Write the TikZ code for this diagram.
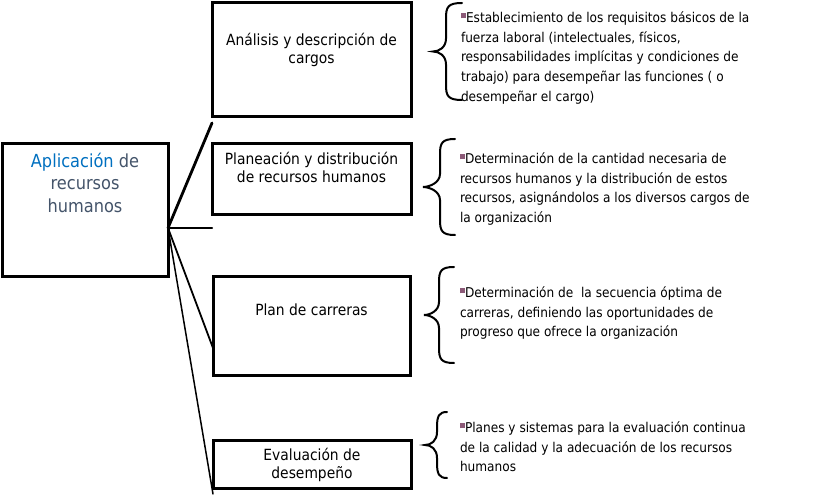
\documentclass[tikz,border=0pt]{standalone}
\usepackage{fontspec}
\setmainfont{DejaVu Sans Condensed}
\usepackage{xcolor}
\usepackage{tikz}

\newcommand{\sqbullet}{\textcolor{bulletColor}{\rule[4.3pt]{5pt}{5pt}}}
% #1 end x, #2 stem x, #3 tip x, #4 top y, #5 bottom y
\newcommand{\leftbrace}[5]{%
  \path[braceStyle] (#1,#4) .. controls ({#2+2},#4) and (#2,{#4-4}) .. (#2,{#4-15})
    -- (#2,{(#4+#5)/2+13}) .. controls (#2,{(#4+#5)/2+4}) and ({#3+6},{(#4+#5)/2}) .. (#3,{(#4+#5)/2})
    .. controls ({#3+6},{(#4+#5)/2}) and (#2,{(#4+#5)/2-4}) .. (#2,{(#4+#5)/2-13})
    -- (#2,{#5+15}) .. controls (#2,{#5+4}) and ({#2+2},#5) .. (#1,#5);}

\begin{document}
\begin{tikzpicture}[x=1pt,y=1pt]
\definecolor{fillColor}{RGB}{255,255,255}
\definecolor{drawColor}{RGB}{0,0,0}
\definecolor{titleColor}{RGB}{0,112,192}
\definecolor{slateColor}{RGB}{68,84,106}
\definecolor{bulletColor}{RGB}{140,90,120}
\tikzset{
  boxStyle/.style={draw=drawColor,line width=3pt,fill=fillColor,inner sep=0pt,outer sep=0pt},
  boxText/.style={text=drawColor,align=center,anchor=north,inner sep=0pt,outer sep=0pt,font=\fontsize{15.4}{18}\selectfont},
  titleText/.style={text=slateColor,align=center,anchor=north,inner sep=0pt,outer sep=0pt,font=\fontsize{18}{22.5}\selectfont},
  noteText/.style={text=drawColor,align=left,anchor=north west,inner sep=0pt,outer sep=0pt,font=\fontsize{13.5}{19.6}\selectfont},
  braceStyle/.style={draw=drawColor,line width=2pt,line cap=round},
  linkStyle/.style={draw=drawColor,line width=#1,line cap=round}
}
\path[use as bounding box,fill=fillColor] (0,0) rectangle (821,495);

% boxes
\node[boxStyle,minimum width=166,minimum height=133] (main) at ( 85.0,284.5) {};
\node[boxStyle,minimum width=199,minimum height=114] (ana) at (311.5,435.0) {};
\node[boxStyle,minimum width=199,minimum height= 71] (pla) at (311.5,315.5) {};
\node[boxStyle,minimum width=197,minimum height= 99] (car) at (311.5,168.5) {};
\node[boxStyle,minimum width=198,minimum height= 48] (eva) at (312.0, 31.0) {};

\node[titleText] (mainT) at ([yshift=-9pt]main.north) {\textcolor{titleColor}{Aplicación} de\\recursos\\humanos};
\node[boxText] (anaT) at ([yshift=-30pt]ana.north) {Análisis y descripción de\\cargos};
\node[boxText] (plaT) at ([yshift=-8.5pt]pla.north) {Planeación y distribución\\de recursos humanos};
\node[boxText] (carT) at ([yshift=-27pt]car.north) {Plan de carreras};
\node[boxText] (evaT) at ([yshift=-8pt]eva.north) {Evaluación de\\desempeño};

% links from the main box
\coordinate (hub) at ([yshift=-17.5pt]main.east);
\coordinate (anaEnd) at ([yshift=-6pt]ana.south west);
\coordinate (plaEnd) at ([yshift=-13pt]pla.south west);
\coordinate (carEnd) at ([yshift=28pt]car.south west);
\coordinate (evaEnd) at ([yshift=-6pt]eva.south west);
\path[linkStyle=2.8pt] (hub) -- (anaEnd);
\path[linkStyle=2.2pt] (hub) -- (plaEnd);
\path[linkStyle=1.8pt] (hub) -- (carEnd);
\path[linkStyle=1.5pt] (hub) -- (evaEnd);

% notes
\node[noteText] (anaN) at (461,483) {\sqbullet Establecimiento de los requisitos básicos de la\\fuerza laboral (intelectuales, físicos,\\responsabilidades implícitas y condiciones de\\trabajo) para desempeñar las funciones ( o\\desempeñar el cargo)};
\node[noteText] (plaN) at (460,342) {\sqbullet Determinación de la cantidad necesaria de\\recursos humanos y la distribución de estos\\recursos, asignándolos a los diversos cargos de\\la organización};
\node[noteText] (carN) at (460,208) {\sqbullet Determinación de~ la secuencia óptima de\\carreras, definiendo las oportunidades de\\progreso que ofrece la organización};
\node[noteText] (evaN) at (460, 73) {\sqbullet Planes y sistemas para la evaluación continua\\de la calidad y la adecuación de los recursos\\humanos};

% braces
\leftbrace{462}{446}{433}{492}{395}
\leftbrace{455}{440}{423}{356}{260}
\leftbrace{454}{439}{424}{228}{132}
\leftbrace{447}{437}{425}{ 83}{ 17}
\end{tikzpicture}
\end{document}
